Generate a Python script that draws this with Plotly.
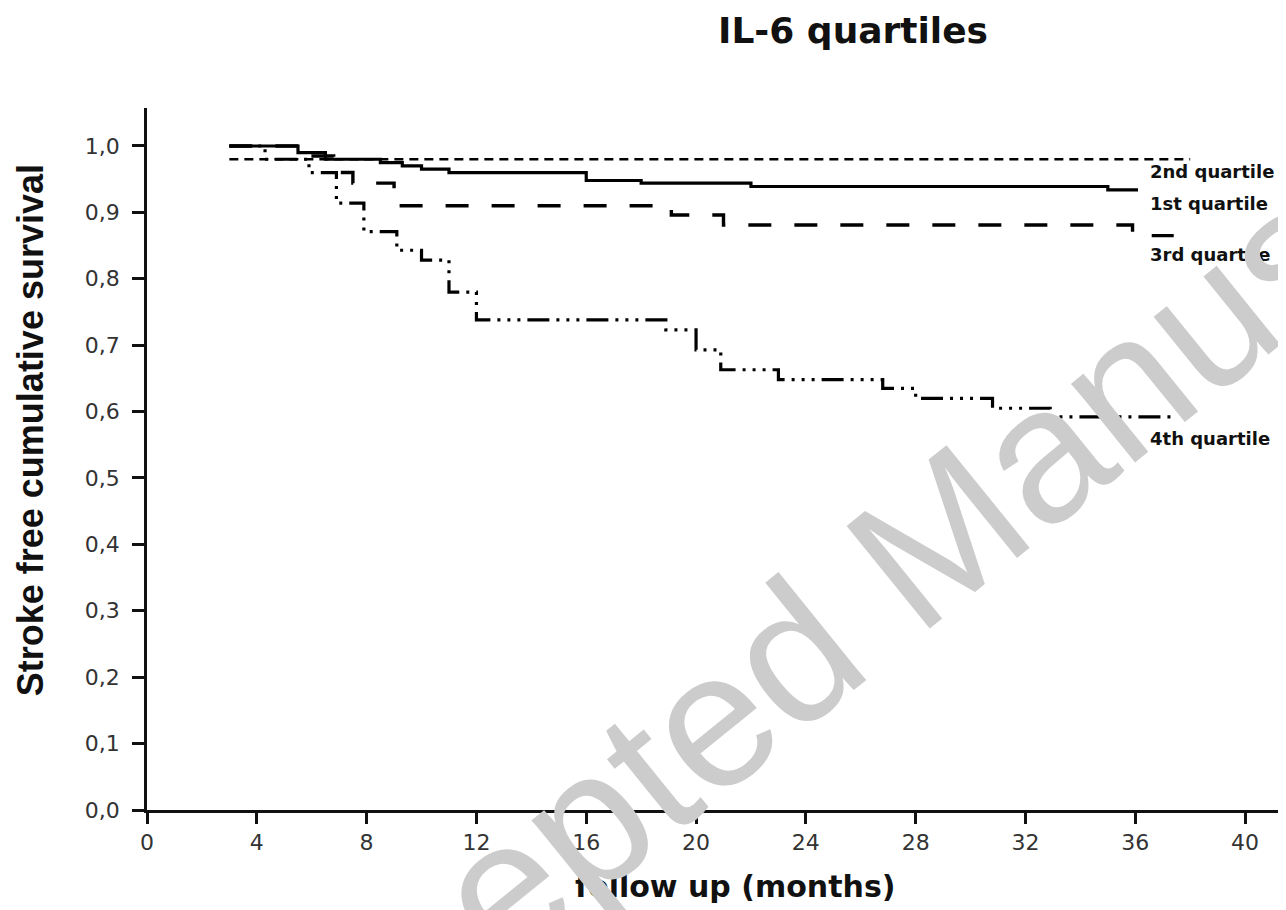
import plotly.graph_objects as go

# ---- data ----
q1_t = [3, 5.5, 6.5, 8.5, 9.3, 10.0, 11.0, 16.0, 18.0, 22.0, 35.0, 36.1]
q1_s = [1.0, 0.99, 0.98, 0.975, 0.97, 0.965, 0.96, 0.948, 0.944, 0.939, 0.934, 0.934]

q2_t = [3, 38.0]
q2_s = [0.98, 0.98]

q3_t = [3, 5.8, 6.8, 7.5, 9.0, 19.1, 21.0, 35.9, 37.4]
q3_s = [1.0, 0.985, 0.96, 0.944, 0.91, 0.896, 0.881, 0.865, 0.865]

q4_t = [3, 4.3, 5.9, 6.9, 7.9, 9.1, 10.0, 11.0, 12.0, 18.9, 20.0, 20.9,
        23.0, 26.8, 28.0, 30.8, 32.9, 37.4]
q4_s = [1.0, 0.98, 0.96, 0.914, 0.871, 0.843, 0.828, 0.78, 0.738, 0.723,
        0.693, 0.663, 0.648, 0.635, 0.62, 0.605, 0.592, 0.592]

series_names = ["1st quartile", "2nd quartile", "3rd quartile", "4th quartile"]
label_x = [36.45, 36.45, 36.45, 36.45]
label_y = [0.914, 0.961, 0.837, 0.560]

x_ticks = list(range(0, 41, 4))
y_ticks = [i / 10 for i in range(0, 11)]
y_ticktext = ["0,0", "0,1", "0,2", "0,3", "0,4", "0,5", "0,6", "0,7", "0,8", "0,9", "1,0"]

title_text = "IL-6 quartiles"
x_title = "follow up (months)"
y_title = "Stroke free cumulative survival"
watermark = "Accepted Manuscript"

fig = go.Figure()

styles = [
    dict(color="black", width=3.2, dash="solid"),
    dict(color="black", width=2.6, dash="9px,6px"),
    dict(color="black", width=3.4, dash="23px,23px"),
    dict(color="black", width=3.2, dash="22px,7px,3px,7px,3px,7px,3px,7px"),
]
data = [(q1_t, q1_s), (q2_t, q2_s), (q3_t, q3_s), (q4_t, q4_s)]
for (t, s), name, st in zip(data, series_names, styles):
    fig.add_trace(go.Scatter(x=t, y=s, mode="lines", name=name,
                             line=dict(shape="hv", **st), showlegend=False,
                             hoverinfo="skip"))

annotations = []
for name, lx, ly in zip(series_names, label_x, label_y):
    annotations.append(dict(x=lx, y=ly, xref="x", yref="y", text=name,
                            showarrow=False, xanchor="left", yanchor="middle",
                            font=dict(family="DejaVu Sans", size=18, color="#111",
                                      weight="bold")))

annotations.append(dict(x=0.62, y=1.111, xref="paper", yref="paper", text=title_text,
                        showarrow=False, xanchor="center", yanchor="middle",
                        font=dict(family="DejaVu Sans", size=36, color="#111",
                                  weight="bold")))
annotations.append(dict(x=0.516, y=-0.109, xref="paper", yref="paper", text=x_title,
                        showarrow=False, xanchor="center", yanchor="middle",
                        font=dict(family="DejaVu Sans", size=30, color="#111",
                                  weight="bold")))
annotations.append(dict(x=-0.1027, y=0.541, xref="paper", yref="paper", text=y_title,
                        showarrow=False, xanchor="center", yanchor="middle",
                        textangle=-90,
                        font=dict(family="Liberation Sans", size=36, color="#111",
                                  weight="bold")))
annotations.append(dict(x=(908 - 147) / 1139, y=(810 - 560) / 702, xref="paper",
                        yref="paper", text=watermark, showarrow=False,
                        xanchor="center", yanchor="middle", textangle=-39,
                        font=dict(family="Liberation Sans", size=192,
                                  color="rgb(204,204,204)")))

# page body has an ~8px offset, so the figure is sized/placed to compensate
fig.update_layout(
    width=1278, height=902,
    margin=dict(l=139, r=0, t=100, b=100),
    paper_bgcolor="white", plot_bgcolor="white",
    annotations=annotations,
    xaxis=dict(range=[0, 41.49], tickvals=x_ticks, ticks="outside", ticklen=11,
               tickwidth=2.5, tickcolor="#111", showline=True, linecolor="#111",
               linewidth=2.5, showgrid=False, zeroline=False,
               tickfont=dict(family="DejaVu Sans", size=22, color="#333")),
    yaxis=dict(range=[0, 1.0572], tickvals=y_ticks, ticktext=y_ticktext,
               ticks="outside", ticklen=12, tickwidth=2.5, tickcolor="#111",
               showline=True, linecolor="#111", linewidth=2.5, showgrid=False,
               zeroline=False, ticklabelstandoff=8,
               tickfont=dict(family="DejaVu Sans", size=22, color="#333")),
)

fig.write_html("out.html")
